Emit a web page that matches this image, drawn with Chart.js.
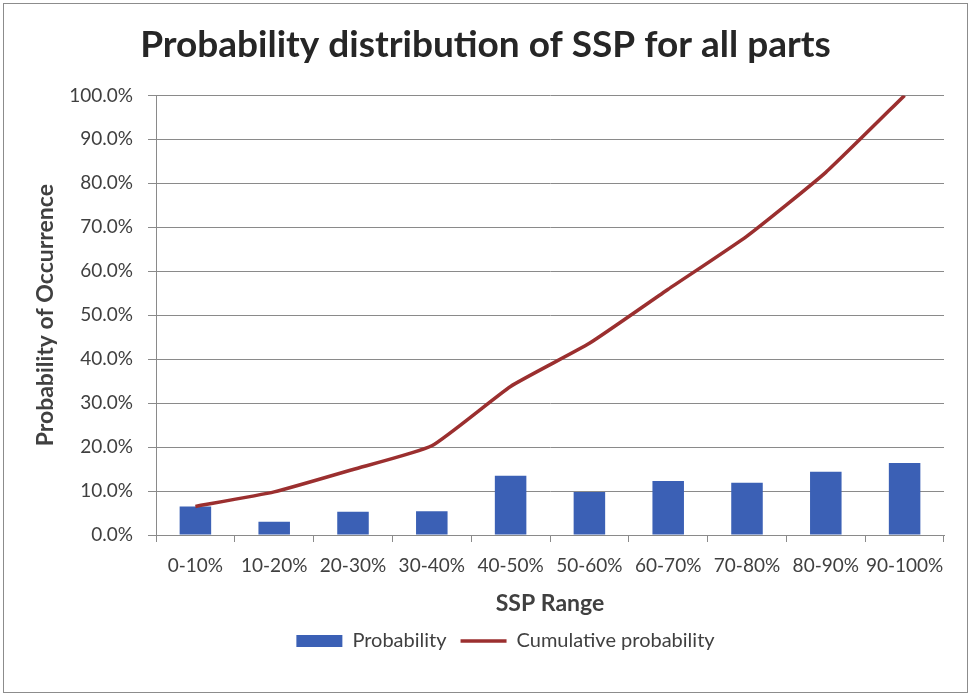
<!DOCTYPE html>
<html>
<head>
<meta charset="utf-8">
<script src="https://cdn.jsdelivr.net/npm/chart.js@4.4.1/dist/chart.umd.min.js"></script>
<style>
  html, body { margin: 0; padding: 0; background: #ffffff; }
  #wrap { width: 971px; height: 696px; position: relative; }
</style>
</head>
<body>
<div id="wrap"><canvas id="c" width="971" height="696"></canvas></div>
<script>
const categories = ['0-10%', '10-20%', '20-30%', '30-40%', '40-50%', '50-60%', '60-70%', '70-80%', '80-90%', '90-100%'];
const probability = [6.5, 3.0, 5.3, 5.4, 13.5, 9.8, 12.3, 11.9, 14.4, 16.4];
const cumulative = [6.5, 9.8, 14.9, 20.3, 33.8, 43.6, 55.9, 68.0, 82.5, 100.0];
const yTicks = [0, 10, 20, 30, 40, 50, 60, 70, 80, 90, 100];

const FONT = 'Lato, "Liberation Sans", sans-serif';
const TEXT = '#404040';
const GRID = '#8a8a8a';

const frame = {
  id: 'frame',
  beforeDraw(chart) {
    const ctx = chart.ctx;
    ctx.save();
    ctx.fillStyle = '#ffffff';
    ctx.fillRect(0, 0, chart.width, chart.height);
    ctx.strokeStyle = '#8c8c8c';
    ctx.lineWidth = 1;
    ctx.strokeRect(3.5, 3.5, chart.width - 7, chart.height - 7);
    ctx.restore();
  }
};

const legendShift = {
  id: 'legendShift',
  afterLayout(chart) {
    if (chart.legend) {
      chart.legend.left += 20;
      chart.legend.right += 20;
    }
  }
};

new Chart(document.getElementById('c'), {
  data: {
    labels: categories,
    datasets: [
      {
        type: 'line',
        label: 'Cumulative probability',
        data: cumulative,
        borderColor: '#9b2f2f',
        backgroundColor: '#9b2f2f',
        borderWidth: 3.5,
        pointRadius: 0,
        tension: 0.15,
        pointStyle: 'line',
        order: 0
      },
      {
        type: 'bar',
        label: 'Probability',
        data: probability,
        backgroundColor: '#3b60b5',
        borderColor: '#3b60b5',
        borderWidth: 0,
        barPercentage: 0.4,
        categoryPercentage: 1.0,
        pointStyle: 'rect',
        order: 1
      }
    ]
  },
  options: {
    responsive: false,
    animation: false,
    devicePixelRatio: 1,
    layout: { padding: { left: 27, right: 27, top: 0, bottom: 35 } },
    scales: {
      x: {
        offset: true,
        grid: { display: true, drawOnChartArea: false, drawTicks: true, tickLength: 7, color: GRID, offset: true },
        border: { display: true, color: GRID, width: 1 },
        ticks: { color: TEXT, font: { family: FONT, size: 19 }, padding: 12, maxRotation: 0, autoSkip: false },
        title: { display: true, text: 'SSP Range', color: TEXT, font: { family: FONT, size: 23, weight: 'bold' }, padding: { top: 0, bottom: 0 } },
        afterFit(scale) { scale.height = 82; }
      },
      y: {
        min: 0,
        max: 100,
        afterBuildTicks(scale) { scale.ticks = yTicks.map(v => ({ value: v })); },
        grid: { color: GRID, tickLength: 8, drawTicks: true },
        border: { display: true, color: GRID, width: 1 },
        ticks: {
          color: TEXT,
          font: { family: FONT, size: 19 },
          padding: 15,
          callback: v => Number(v).toFixed(1) + '%'
        },
        title: { display: true, text: 'Probability of Occurrence', color: TEXT, font: { family: FONT, size: 23, weight: 'bold' }, padding: { top: 5, bottom: 0 } },
        afterFit(scale) { scale.width = 129; }
      }
    },
    plugins: {
      title: {
        display: true,
        text: 'Probability distribution of SSP for all parts',
        color: '#262626',
        font: { family: FONT, size: 37, weight: 'bold' },
        padding: { top: 23, bottom: 28 }
      },
      legend: {
        display: true,
        position: 'bottom',
        reverse: true,
        labels: {
          color: TEXT,
          font: { family: FONT, size: 20 },
          usePointStyle: true,
          pointStyleWidth: 46,
          boxHeight: 12,
          padding: 14
        }
      },
      tooltip: { enabled: false }
    }
  },
  plugins: [frame, legendShift]
});
</script>
</body>
</html>
